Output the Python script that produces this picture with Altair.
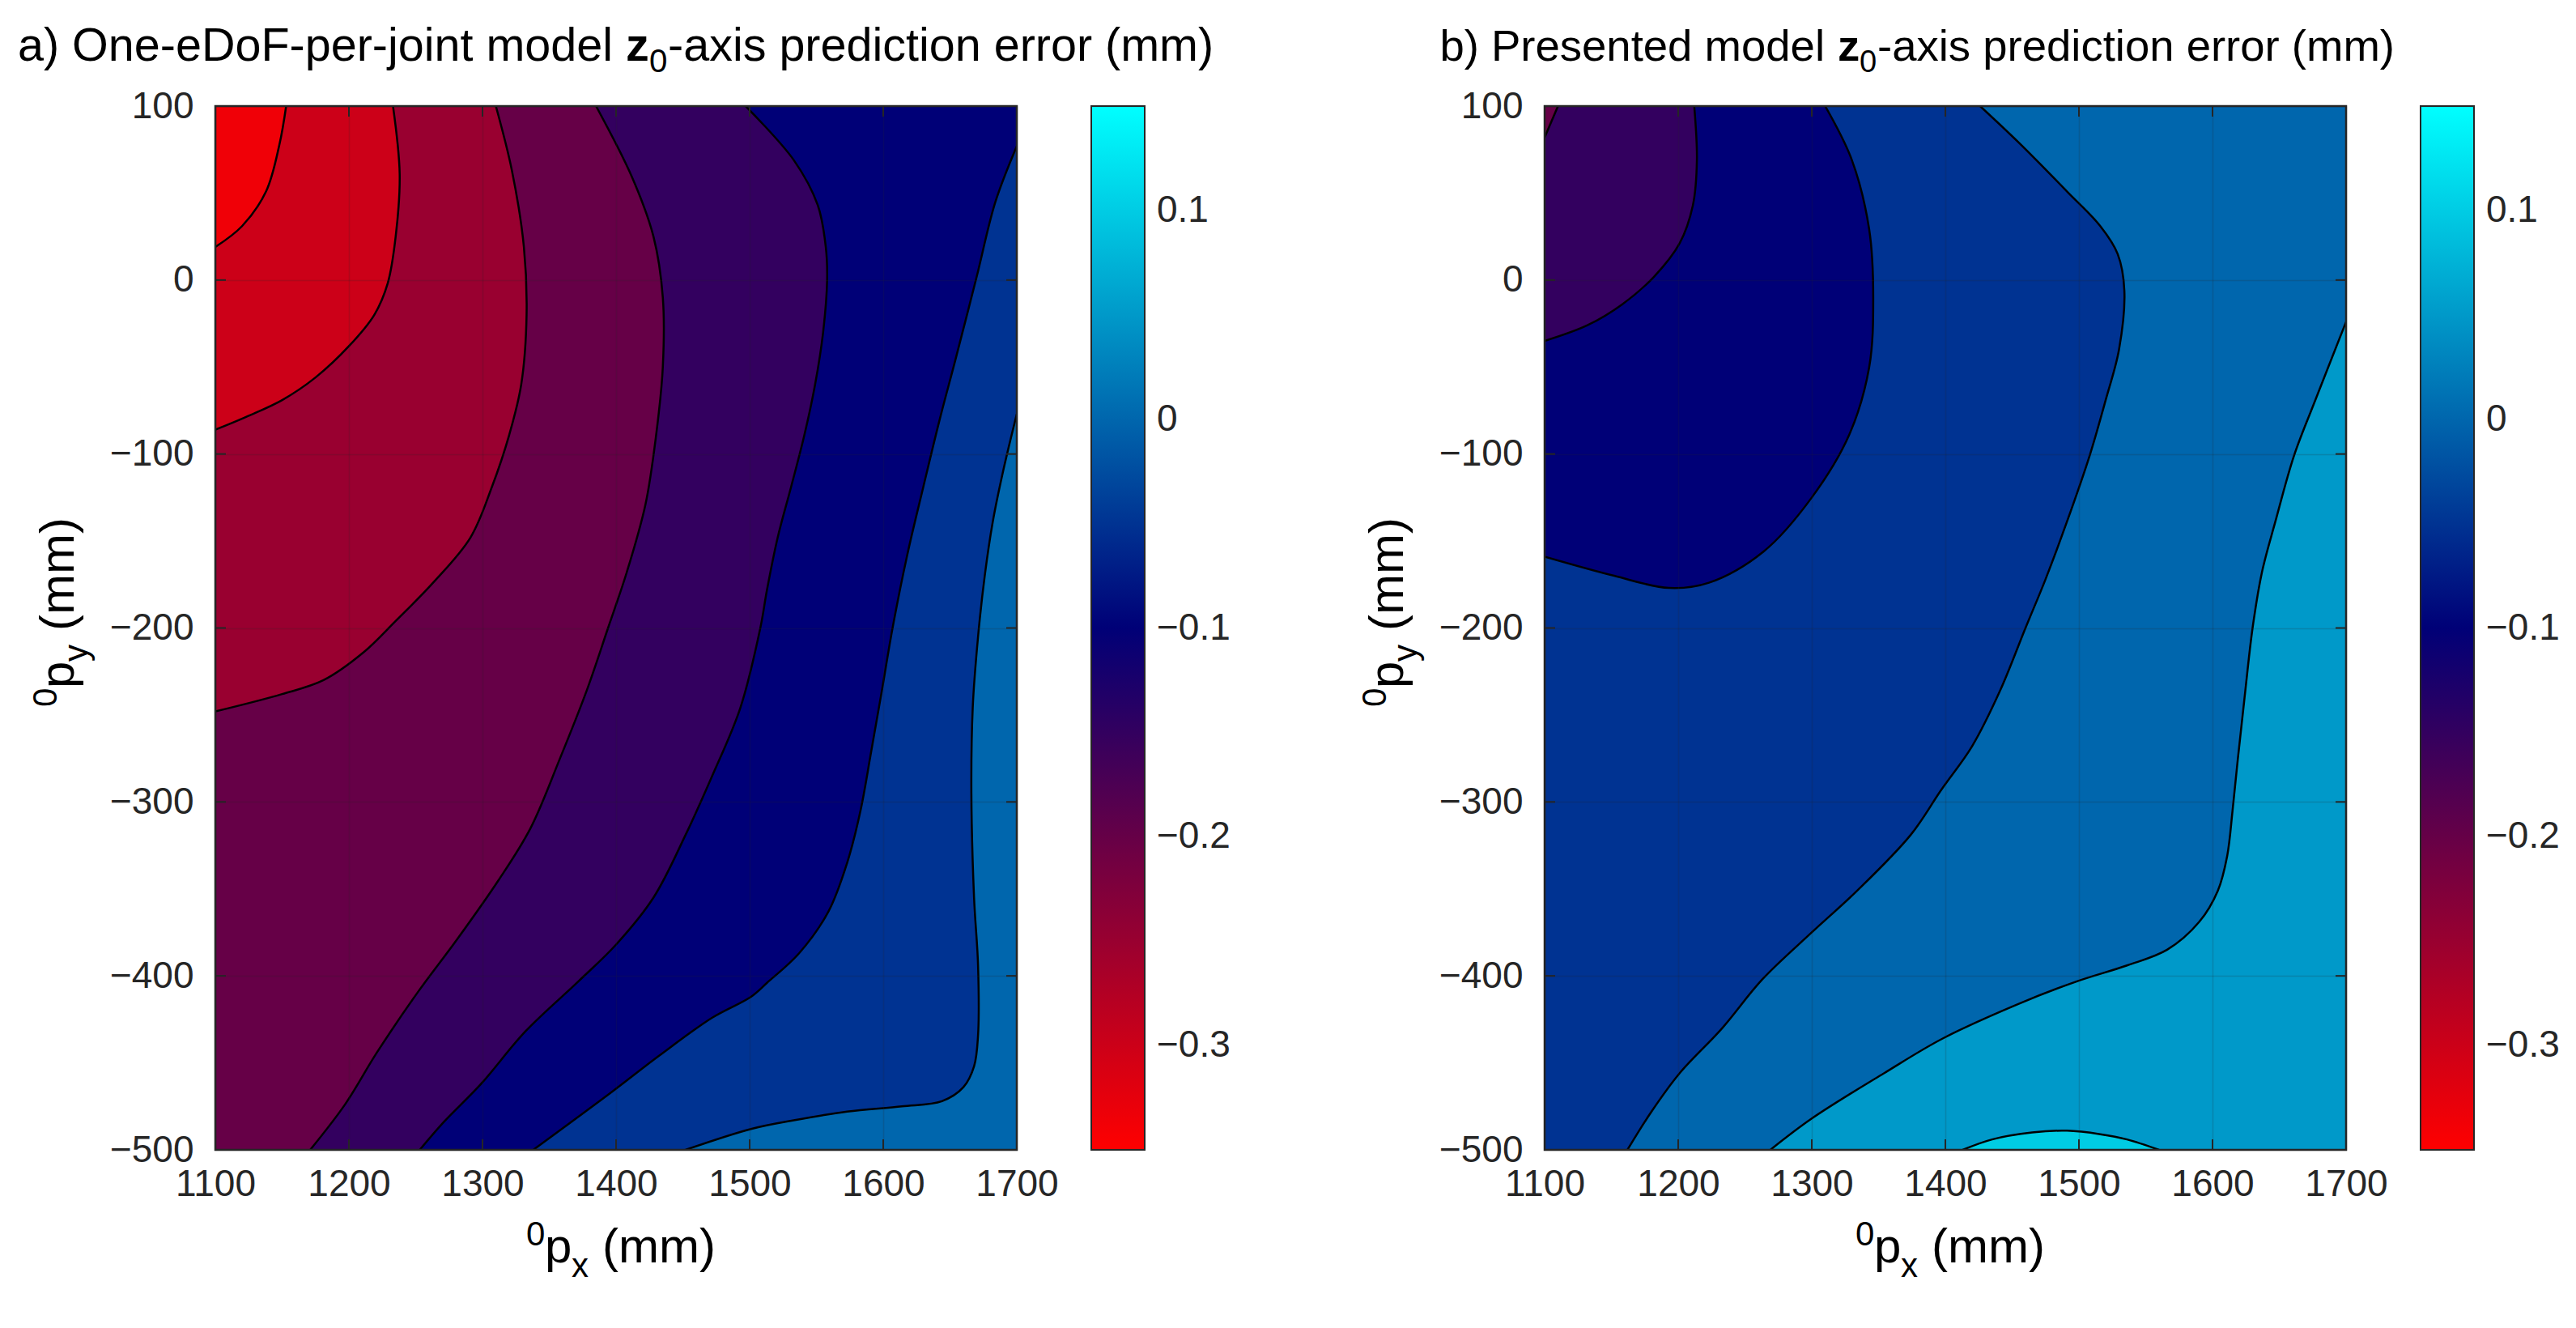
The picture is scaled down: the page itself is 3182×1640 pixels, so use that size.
import altair as alt
import pandas as pd

FONT = "Liberation Sans"
TXT = "#262626"
W, H = 990, 1289
TICK = 13

X_DOMAIN = [1100, 1700]
Y_DOMAIN = [-500, 100]
X_TICKS = [1100, 1200, 1300, 1400, 1500, 1600, 1700]
Y_TICKS = [-500, -400, -300, -200, -100, 0, 100]

CMAP_VALUES = [-0.35, -0.1, 0.15]
CMAP_COLORS = ["#ff0000", "#000077", "#00ffff"]
CBAR_TICKS = [-0.3, -0.2, -0.1, 0.0, 0.1]

# ---- panel a: contour lines (x, y in mm) ----
A1_X = [1100, 1120, 1138, 1148, 1153]
A1_Y = [19, 31, 51, 78, 100]
A2_X = [1100, 1122, 1150, 1175, 1200, 1219, 1229, 1235, 1238, 1233]
A2_Y = [-86, -79, -69, -56, -38, -20, -2, 25, 61, 100]
A3_X = [1100, 1150, 1181, 1211, 1235, 1263, 1291, 1307, 1320, 1329, 1333, 1331, 1322, 1310]
A3_Y = [-248, -238, -230, -214, -196, -174, -148, -119, -89, -60, -20, 19, 63, 100]
A4_X = [1385, 1412, 1428, 1435, 1435, 1430, 1422, 1408, 1394, 1378, 1358, 1336, 1312, 1281, 1251, 1221, 1197, 1171]
A4_Y = [100, 59, 25, -10, -50, -89, -129, -168, -200, -236, -275, -315, -345, -379, -410, -444, -474, -500]
A5_X = [1497, 1533, 1551, 1557, 1558, 1555, 1549, 1541, 1531, 1521, 1513, 1508, 1493, 1472, 1452, 1428, 1400, 1372, 1332, 1299, 1271, 1253]
A5_Y = [100, 69, 43, 19, 0, -30, -60, -89, -119, -148, -178, -200, -246, -285, -319, -355, -382, -403, -432, -462, -484, -500]
A6_X = [1700, 1684, 1670, 1654, 1642, 1630, 1618, 1607, 1599, 1591, 1583, 1573, 1559, 1537, 1513, 1501, 1472, 1432, 1398, 1338]
A6_Y = [77, 45, 2, -46, -81, -119, -158, -200, -236, -271, -305, -335, -363, -387, -404, -412, -424, -446, -466, -500]
A7_X = [1700, 1690, 1682, 1676, 1671, 1667, 1666, 1668, 1671, 1671, 1668, 1660, 1644, 1614, 1573, 1533, 1501, 1452]
A7_Y = [-77, -109, -139, -170, -205, -246, -295, -355, -394, -434, -452, -464, -472, -475, -478, -483, -488, -500]

# region levels (mm): background, then filled regions painted in order
A_BACKGROUND = 0.0
A_LEVELS = [-0.05, -0.1, -0.15, -0.2, -0.25, -0.3, -0.335]

# ---- panel b: contour lines ----
B0_X = [1100, 1110]
B0_Y = [82, 100]
B1_X = [1212, 1214, 1211, 1201, 1182, 1158, 1132, 1100]
B1_Y = [100, 69, 43, 21, 2, -14, -26, -35]
B2_X = [1310, 1330, 1343, 1346, 1343, 1328, 1300, 1264, 1223, 1193, 1152, 1100]
B2_Y = [100, 69, 29, -10, -50, -89, -125, -156, -174, -177, -170, -159]
B3_X = [1426, 1455, 1491, 1516, 1529, 1534, 1530, 1520, 1508, 1491, 1475, 1460, 1441, 1420, 1397, 1374, 1334, 1300, 1263, 1233, 1201, 1180, 1162]
B3_Y = [100, 79, 51, 31, 15, -6, -40, -69, -101, -139, -172, -200, -236, -268, -293, -319, -351, -375, -402, -430, -456, -478, -500]
B4_X = [1700, 1677, 1661, 1647, 1637, 1630, 1624, 1619, 1615, 1611, 1604, 1590, 1566, 1536, 1499, 1455, 1398, 1354, 1300, 1269]
B4_Y = [-24, -69, -101, -139, -168, -200, -240, -275, -305, -331, -351, -369, -385, -394, -403, -416, -436, -456, -482, -500]
B5_X = [1413, 1435, 1465, 1491, 1516, 1536, 1560]
B5_Y = [-500, -494, -490, -489, -491, -494, -500]

B_BACKGROUND = -0.2
B_LEVELS = [-0.15, -0.1, -0.05, 0.0, 0.05, 0.1]

X0, X1 = X_DOMAIN
Y0, Y1 = Y_DOMAIN
TL, TR, BL, BR = (X0, Y1), (X1, Y1), (X0, Y0), (X1, Y0)

A_LINES = [(A7_X, A7_Y), (A6_X, A6_Y), (A5_X, A5_Y), (A4_X, A4_Y), (A3_X, A3_Y), (A2_X, A2_Y), (A1_X, A1_Y)]
A_CORNERS = [[BL, TL, TR], [BL, TL, TR], [BL, TL], [BL, TL], [TL], [TL], [TL]]
B_LINES = [(B0_X, B0_Y), (B1_X, B1_Y), (B2_X, B2_Y), (B3_X, B3_Y), (B4_X, B4_Y), (B5_X, B5_Y)]
B_CORNERS = [[TR, BR, BL], [BL, BR, TR], [BL, BR, TR], [BR, TR], [BR], []]

AXIS_COMMON = dict(
    title=None, grid=True, gridColor=TXT, gridOpacity=0.18, gridWidth=1.5,
    ticks=False, domain=False, labelFont=FONT, labelFontSize=46, labelColor=TXT,
    zindex=1, format="d", labelFlush=False,
)
X_AXIS = alt.Axis(values=X_TICKS, labelPadding=20, **AXIS_COMMON)
Y_AXIS = alt.Axis(values=Y_TICKS, labelPadding=27, **AXIS_COMMON)

LEGEND = alt.Legend(
    title=None, values=CBAR_TICKS, format=".1~f", gradientLength=H,
    gradientThickness=66, offset=92, labelOffset=15, labelFontSize=46,
    labelFont=FONT, labelColor=TXT, gradientStrokeColor=TXT,
    gradientStrokeWidth=2, labelOverlap=False, direction="vertical",
    orient="right", padding=0,
)
COLOR = alt.Color(
    "v:Q",
    scale=alt.Scale(domain=CMAP_VALUES, range=CMAP_COLORS, interpolate="rgb"),
    legend=LEGEND,
)


def xenc():
    return alt.X("x:Q", scale=alt.Scale(domain=X_DOMAIN, nice=False, zero=False), axis=X_AXIS)


def yenc():
    return alt.Y("y:Q", scale=alt.Scale(domain=Y_DOMAIN, nice=False, zero=False), axis=Y_AXIS)


def text(s, x, y, size, bold=False, align="left", angle=0):
    return alt.Chart(pd.DataFrame({"t": [s]})).mark_text(
        font=FONT, fontSize=size, fontWeight="bold" if bold else "normal",
        align=align, baseline="alphabetic", color="#000000", angle=angle,
    ).encode(text="t:N", x=alt.value(x), y=alt.value(y))


def panel(lines, corners, levels, background, title):
    bg = pd.DataFrame({"x": [X0], "x2": [X1], "y": [Y0], "y2": [Y1], "v": [background]})
    layers = [alt.Chart(bg).mark_rect().encode(x=xenc(), x2="x2", y=yenc(), y2="y2", color=COLOR)]
    line_rows = []
    for k, ((xs, ys), cs, v) in enumerate(zip(lines, corners, levels)):
        px = list(xs) + [xs[-1]]
        py = list(ys) + [ys[-1]]
        for c in cs:
            px += [c[0], c[0]]
            py += [c[1], c[1]]
        df = pd.DataFrame({"i": range(len(px)), "x": px, "y": py, "v": v})
        layers.append(
            alt.Chart(df).mark_line(filled=True, interpolate="catmull-rom", clip=True, strokeWidth=0)
            .encode(x=xenc(), y=yenc(), order="i:Q", color=COLOR)
        )
        line_rows.append(pd.DataFrame({"line": k, "i": range(len(xs)), "x": xs, "y": ys}))
    ldf = pd.concat(line_rows, ignore_index=True)
    layers.append(
        alt.Chart(ldf).mark_line(color="#000000", strokeWidth=2.5, interpolate="catmull-rom", clip=True)
        .encode(x=xenc(), y=yenc(), detail="line:N", order="i:Q")
    )
    # inward tick marks on all four sides
    xt = pd.DataFrame({"x": X_TICKS})
    yt = pd.DataFrame({"y": Y_TICKS})
    layers += [
        alt.Chart(xt).mark_rule(color=TXT, strokeWidth=2).encode(x=xenc(), y=alt.value(H), y2=alt.value(H - TICK)),
        alt.Chart(xt).mark_rule(color=TXT, strokeWidth=2).encode(x=xenc(), y=alt.value(0), y2=alt.value(TICK)),
        alt.Chart(yt).mark_rule(color=TXT, strokeWidth=2).encode(y=yenc(), x=alt.value(0), x2=alt.value(TICK)),
        alt.Chart(yt).mark_rule(color=TXT, strokeWidth=2).encode(y=yenc(), x=alt.value(W - TICK), x2=alt.value(W)),
    ]
    layers.append(
        alt.Chart(pd.DataFrame({"b": [0]})).mark_rect(fillOpacity=0, stroke=TXT, strokeWidth=2.5)
        .encode(x=alt.value(0), x2=alt.value(W), y=alt.value(0), y2=alt.value(H))
    )
    # title: prefix, bold z, subscript 0, suffix
    pre, pre_end, zx, sx, suf_x, size = title
    ty = -56
    layers += [
        text(pre, pre_end, ty, size, align="right"),
        text("z", zx, ty, size, bold=True),
        text("0", sx, ty + 14, size * 0.7),
        text("-axis prediction error (mm)", suf_x, ty, size),
    ]
    # x-axis title: 0p_x (mm)
    layers += [
        text("0", 384, H + 118, 42),
        text("p", 407, H + 139, 60),
        text("x", 440, H + 157, 42),
        text("(mm)", 478, H + 139, 60),
    ]
    # y-axis title (rotated)
    layers += [
        text("0", -196, 742, 42, angle=270),
        text("p", -175, 719, 60, angle=270),
        text("y", -158, 686, 42, angle=270),
        text("(mm)", -175, 648, 60, angle=270),
    ]
    return alt.layer(*layers).properties(width=W, height=H)


panel_a = panel(A_LINES, A_CORNERS, A_LEVELS, A_BACKGROUND,
                ("a) One-eDoF-per-joint model", 491, 507, 536, 559, 57.5))
panel_b = panel(B_LINES, B_CORNERS, B_LEVELS, B_BACKGROUND,
                ("b) Presented model", 346, 362, 389, 411, 54.5))

chart = (
    alt.hconcat(panel_a, panel_b, spacing=158)
    .resolve_scale(color="independent")
    .properties(padding={"left": 13, "top": 21, "right": 0, "bottom": 5})
    .configure_view(strokeWidth=0)
)

chart.save("out.html", embed_options={"renderer": "svg", "actions": False})
